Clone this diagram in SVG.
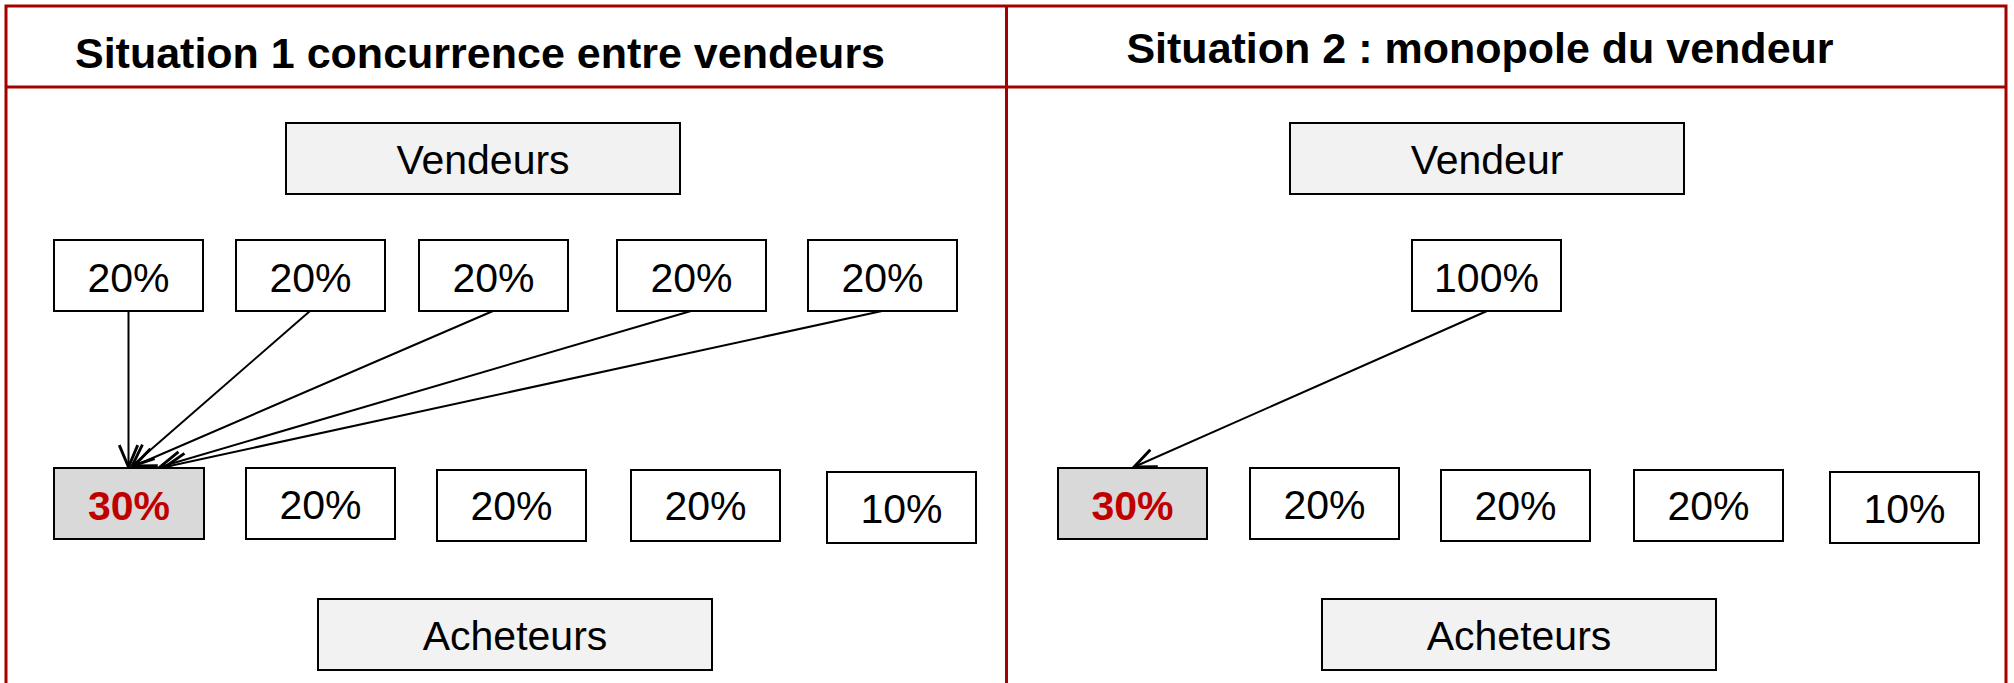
<svg xmlns="http://www.w3.org/2000/svg" width="2014" height="683" viewBox="0 0 2014 683">
<style>
.frame{stroke:#a30000;stroke-width:3;fill:none}
.box{fill:#ffffff;stroke:#000;stroke-width:2}
.big{fill:#f2f2f2;stroke:#000;stroke-width:2}
.hl{fill:#d9d9d9;stroke:#000;stroke-width:2}
.t{font-family:"Liberation Sans",Arial,sans-serif;font-size:41px;fill:#000;text-anchor:middle}
.tr{font-family:"Liberation Sans",Arial,sans-serif;font-size:41px;font-weight:bold;fill:#c00000;text-anchor:middle}
.h{font-family:"Liberation Sans",Arial,sans-serif;font-size:43px;font-weight:bold;fill:#000;text-anchor:middle}
.c{stroke:#000;stroke-width:2;fill:none;marker-end:url(#arr)}
</style>
<defs>
<marker id="arr" markerUnits="userSpaceOnUse" markerWidth="30" markerHeight="30" refX="0" refY="0" viewBox="-22 -12 26 24" orient="auto">
<path d="M -19 -8 L 0 0 L -19 8" fill="none" stroke="#000" stroke-width="2.5"/>
</marker>
</defs>
<rect width="2014" height="683" fill="#fff"/>
<g id="frame">
<path class="frame" d="M6 683 V6 H2006 V683 M6 87 H2006 M1006.5 6 V683"/>
</g>
<g id="titles">
<text class="h" x="480" y="68">Situation 1 concurrence entre vendeurs</text>
<text class="h" x="1480" y="63">Situation 2 : monopole du vendeur</text>
</g>
<g id="connectors">
<line class="c" x1="128.5" y1="311" x2="128.5" y2="467"/>
<line class="c" x1="310" y1="311" x2="132" y2="466"/>
<line class="c" x1="493" y1="311" x2="134" y2="466"/>
<line class="c" x1="691" y1="311" x2="160" y2="467"/>
<line class="c" x1="882" y1="311" x2="165" y2="467"/>
<line class="c" x1="1487" y1="311" x2="1134" y2="467"/>
</g>
<g id="vendeurs"><rect class="big" x="286" y="123" width="394" height="71"/><text class="t" x="483" y="174">Vendeurs</text></g>
<g id="v1"><rect class="box" x="54" y="240" width="149" height="71"/><text class="t" x="128.5" y="292">20%</text></g>
<g id="v2"><rect class="box" x="236" y="240" width="149" height="71"/><text class="t" x="310.5" y="292">20%</text></g>
<g id="v3"><rect class="box" x="419" y="240" width="149" height="71"/><text class="t" x="493.5" y="292">20%</text></g>
<g id="v4"><rect class="box" x="617" y="240" width="149" height="71"/><text class="t" x="691.5" y="292">20%</text></g>
<g id="v5"><rect class="box" x="808" y="240" width="149" height="71"/><text class="t" x="882.5" y="292">20%</text></g>
<g id="a1"><rect class="hl" x="54" y="468" width="150" height="71"/><text class="tr" x="129" y="520">30%</text></g>
<g id="a2"><rect class="box" x="246" y="468" width="149" height="71"/><text class="t" x="320.5" y="519">20%</text></g>
<g id="a3"><rect class="box" x="437" y="470" width="149" height="71"/><text class="t" x="511.5" y="520">20%</text></g>
<g id="a4"><rect class="box" x="631" y="470" width="149" height="71"/><text class="t" x="705.5" y="520">20%</text></g>
<g id="a5"><rect class="box" x="827" y="472" width="149" height="71"/><text class="t" x="901.5" y="523">10%</text></g>
<g id="acheteurs1"><rect class="big" x="318" y="599" width="394" height="71"/><text class="t" x="515" y="650">Acheteurs</text></g>
<g id="vendeur"><rect class="big" x="1290" y="123" width="394" height="71"/><text class="t" x="1487" y="174">Vendeur</text></g>
<g id="m1"><rect class="box" x="1412" y="240" width="149" height="71"/><text class="t" x="1486.5" y="292">100%</text></g>
<g id="b1"><rect class="hl" x="1058" y="468" width="149" height="71"/><text class="tr" x="1132.5" y="520">30%</text></g>
<g id="b2"><rect class="box" x="1250" y="468" width="149" height="71"/><text class="t" x="1324.5" y="519">20%</text></g>
<g id="b3"><rect class="box" x="1441" y="470" width="149" height="71"/><text class="t" x="1515.5" y="520">20%</text></g>
<g id="b4"><rect class="box" x="1634" y="470" width="149" height="71"/><text class="t" x="1708.5" y="520">20%</text></g>
<g id="b5"><rect class="box" x="1830" y="472" width="149" height="71"/><text class="t" x="1904.5" y="523">10%</text></g>
<g id="acheteurs2"><rect class="big" x="1322" y="599" width="394" height="71"/><text class="t" x="1519" y="650">Acheteurs</text></g>
</svg>
